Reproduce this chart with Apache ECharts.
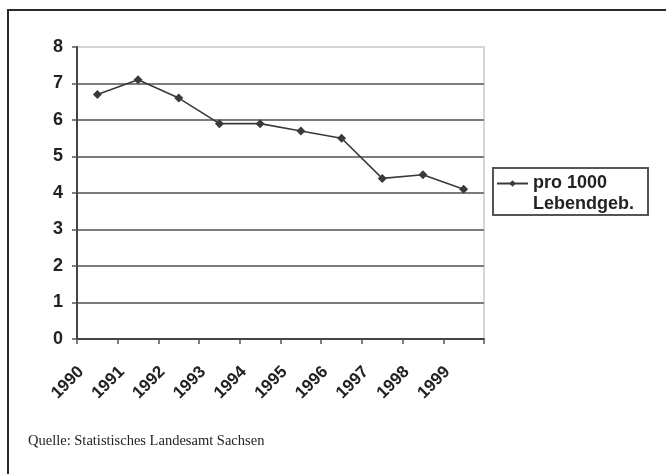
<!DOCTYPE html>
<html>
<head>
<meta charset="utf-8">
<script src="https://cdn.jsdelivr.net/npm/echarts@6/dist/echarts.min.js"></script>
<style>
  html, body { margin: 0; padding: 0; background: #ffffff; }
  #chart { width: 666px; height: 474px; }
</style>
</head>
<body>
<div id="chart"></div>
<script>
// Years on the category axis
const years = ['1990', '1991', '1992', '1993', '1994', '1995', '1996', '1997', '1998', '1999'];
// Rate per 1000 live births
const ratePer1000 = [6.7, 7.1, 6.6, 5.9, 5.9, 5.7, 5.5, 4.4, 4.5, 4.1];
// Value axis tick labels
const yTicks = ['0', '1', '2', '3', '4', '5', '6', '7', '8'];
const seriesName = 'pro 1000\nLebendgeb.';
const sourceNote = 'Quelle: Statistisches Landesamt Sachsen';

const chart = echarts.init(document.getElementById('chart'), null, { renderer: 'canvas' });

// Gridlines are mid grey; the top edge of the plot area is a light frame line
const gridColors = yTicks.map((t, i) => (i === yTicks.length - 1 ? '#d6d6d6' : '#7c7c7c'));

chart.setOption({
  animation: false,
  backgroundColor: '#ffffff',
  textStyle: { fontFamily: 'Liberation Sans, Arial, sans-serif' },
  graphic: [
    // outer frame of the figure
    {
      type: 'rect',
      shape: { x: 8, y: 10, width: 700, height: 500 },
      style: { fill: 'none', stroke: '#2a2a2a', lineWidth: 2 },
      silent: true
    },
    // legend frame
    {
      type: 'rect',
      shape: { x: 493, y: 168, width: 155, height: 47 },
      style: { fill: 'none', stroke: '#555', lineWidth: 2 },
      silent: true
    }
  ],
  title: {
    text: sourceNote,
    left: 23,
    top: 429,
    textStyle: {
      fontFamily: 'Liberation Serif, Times New Roman, serif',
      fontWeight: 'normal',
      fontSize: 14.5,
      color: '#222'
    }
  },
  legend: {
    left: 496,
    top: 152,
    orient: 'vertical',
    padding: 0,
    itemWidth: 31,
    itemHeight: 8,
    itemGap: 0,
    // a blank leading line keeps the marker level with the first text line
    formatter: (name) => ' \n' + name,
    textStyle: {
      fontSize: 18,
      fontWeight: 'bold',
      color: '#222',
      lineHeight: 21
    },
    data: [seriesName]
  },
  grid: {
    left: 77,
    top: 47,
    right: 182,
    bottom: 135,
    show: true,
    borderColor: '#d6d6d6',
    borderWidth: 2,
    backgroundColor: 'transparent'
  },
  xAxis: {
    type: 'category',
    data: years,
    boundaryGap: true,
    axisLine: { lineStyle: { color: '#444', width: 2 } },
    axisTick: { show: true, inside: false, length: 5, lineStyle: { color: '#555', width: 1.5 } },
    axisLabel: {
      rotate: 45,
      fontSize: 17,
      fontWeight: 'bold',
      color: '#222',
      margin: 14,
      padding: [0, 23, 0, 0]
    },
    splitLine: { show: false }
  },
  yAxis: {
    type: 'value',
    min: 0,
    max: 8,
    interval: 1,
    axisLine: { show: true, lineStyle: { color: '#444', width: 2 } },
    axisTick: { show: true, inside: false, length: 5, lineStyle: { color: '#555', width: 1.5 } },
    axisLabel: {
      fontSize: 18,
      fontWeight: 'bold',
      color: '#222',
      margin: 14,
      formatter: (v) => yTicks[Math.round(v)]
    },
    splitLine: { show: true, lineStyle: { color: gridColors, width: 2 } }
  },
  series: [
    {
      name: seriesName,
      type: 'line',
      data: ratePer1000,
      symbol: 'diamond',
      symbolSize: 9,
      lineStyle: { color: '#3a3a3a', width: 1.6 },
      itemStyle: { color: '#3a3a3a' }
    }
  ]
});
</script>
</body>
</html>
